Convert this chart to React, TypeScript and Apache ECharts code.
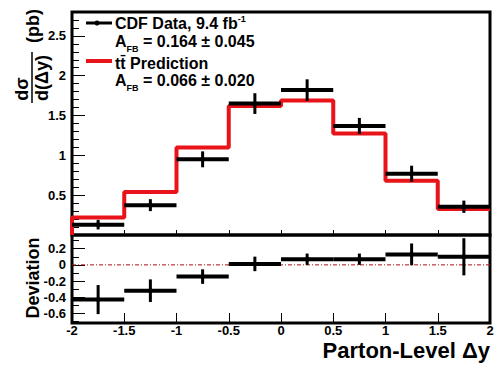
import React, { useEffect, useRef } from "react";
import * as echarts from "echarts";

const binEdges = [-2, -1.5, -1, -0.5, 0, 0.5, 1, 1.5, 2];
const dataValues = [0.13, 0.375, 0.95, 1.65, 1.82, 1.37, 0.77, 0.355];
const dataErrors = [0.06, 0.075, 0.1, 0.13, 0.135, 0.1, 0.1, 0.077];
const predValues = [0.22, 0.54, 1.1, 1.62, 1.69, 1.275, 0.68, 0.325];
const devValues = [-0.43, -0.32, -0.145, 0.012, 0.07, 0.07, 0.13, 0.1];
const devErrors = [0.18, 0.14, 0.09, 0.09, 0.07, 0.07, 0.135, 0.23];
const xTicks = [-2, -1.5, -1, -0.5, 0, 0.5, 1, 1.5, 2];
const upperMajor = [0.5, 1, 1.5, 2, 2.5];
const lowerMajor = [-0.6, -0.4, -0.2, 0, 0.2];

const FONT = "Liberation Sans, Arial, sans-serif";

function minorTicks(lo: number, hi: number, step: number) {
  const out: number[] = [];
  for (let v = lo; v <= hi + 1e-9; v += step) out.push(Math.round(v * 100) / 100);
  return out;
}

export default function App() {
  const ref = useRef<HTMLDivElement>(null);
  useEffect(() => {
    document.body.style.margin = "0";
    const chart = echarts.init(ref.current!, null, { renderer: "svg" });

    const errData = dataValues.map((v, i) => [binEdges[i], binEdges[i + 1], v, dataErrors[i]]);
    const devData = devValues.map((v, i) => [binEdges[i], binEdges[i + 1], v, devErrors[i]]);
    const predPts: number[][] = [[binEdges[0], 0]];
    predValues.forEach((v, i) => predPts.push([binEdges[i], v]));
    predPts.push([binEdges[8], predValues[7]]);

    const renderErr = (params: any, api: any) => {
      const xlo = api.value(0), xhi = api.value(1), y = api.value(2), e = api.value(3);
      const mid = (xlo + xhi) / 2;
      const a = api.coord([xlo, y]);
      const b = api.coord([xhi, y]);
      const t = api.coord([mid, y + e]);
      const bt = api.coord([mid, y - e]);
      return {
        type: "group",
        children: [
          { type: "line", shape: { x1: a[0], y1: a[1], x2: b[0], y2: b[1] }, style: { stroke: "#000", lineWidth: 4 } },
          { type: "line", shape: { x1: t[0], y1: t[1], x2: bt[0], y2: bt[1] }, style: { stroke: "#000", lineWidth: 3 } },
          { type: "circle", shape: { cx: (a[0] + b[0]) / 2, cy: a[1], r: 2.5 }, style: { fill: "#000" } },
        ],
      };
    };

    const lblStyle = { color: "#000", fontWeight: "bold", fontFamily: FONT, fontSize: 13 };
    const tickLine = { color: "#000", width: 1 };
    const noLine = { show: false, onZero: false };

    chart.setOption({
      animation: false,
      grid: [
        { left: 72, top: 12, width: 418, height: 223, show: true, borderColor: "#000", borderWidth: 3, backgroundColor: "transparent" },
        { left: 72, top: 235, width: 418, height: 88, show: true, borderColor: "#000", borderWidth: 3, backgroundColor: "transparent" },
      ],
      xAxis: [
        {
          type: "value", gridIndex: 0, min: -2, max: 2, interval: 0.5, position: "bottom",
          axisLine: noLine, splitLine: { show: false },
          axisTick: { inside: true, length: 5, lineStyle: tickLine, customValues: xTicks },
          axisLabel: { show: false },
        },
        {
          type: "value", gridIndex: 1, min: -2, max: 2, interval: 0.5, position: "bottom",
          axisLine: noLine, splitLine: { show: false },
          axisTick: { inside: true, length: 10, lineStyle: tickLine, customValues: xTicks },
          axisLabel: { ...lblStyle, margin: 1, lineHeight: 13, customValues: xTicks, formatter: (v: number) => String(v) },
        },
      ],
      yAxis: [
        {
          type: "value", gridIndex: 0, min: 0, max: 2.8, position: "left",
          axisLine: noLine, splitLine: { show: false },
          axisTick: { inside: true, length: 13, lineStyle: tickLine, customValues: upperMajor },
          axisLabel: { ...lblStyle, margin: 6, customValues: upperMajor, formatter: (v: number) => String(v) },
        },
        {
          type: "value", gridIndex: 0, min: 0, max: 2.8, position: "left",
          axisLine: noLine, splitLine: { show: false },
          axisTick: { inside: true, length: 7, lineStyle: tickLine, customValues: minorTicks(0.1, 2.7, 0.1) },
          axisLabel: { show: false },
        },
        {
          type: "value", gridIndex: 1, min: -0.72, max: 0.37, position: "left",
          axisLine: noLine, splitLine: { show: false },
          axisTick: { inside: true, length: 13, lineStyle: tickLine, customValues: lowerMajor },
          axisLabel: { ...lblStyle, margin: 6, customValues: lowerMajor, formatter: (v: number) => String(v) },
        },
        {
          type: "value", gridIndex: 1, min: -0.72, max: 0.37, position: "left",
          axisLine: noLine, splitLine: { show: false },
          axisTick: { inside: true, length: 7, lineStyle: tickLine, customValues: minorTicks(-0.7, 0.3, 0.1) },
          axisLabel: { show: false },
        },
      ],
      series: [
        {
          type: "line", xAxisIndex: 0, yAxisIndex: 0, step: "end", data: predPts, symbol: "none",
          lineStyle: { color: "#e8141a", width: 4 }, z: 2,
        },
        {
          type: "custom", xAxisIndex: 0, yAxisIndex: 0, data: errData, renderItem: renderErr, z: 3,
        },
        {
          type: "line", xAxisIndex: 1, yAxisIndex: 2, data: [[-2, 0], [2, 0]], symbol: "none",
          lineStyle: { color: "#b01010", width: 1, type: [4, 2, 1, 2] }, z: 1,
        },
        {
          type: "custom", xAxisIndex: 1, yAxisIndex: 2, data: devData, renderItem: renderErr, z: 3,
        },
      ],
      graphic: [
        { type: "text", x: 22, y: 89, rotation: Math.PI / 2, style: { text: "dσ", font: `bold 18px ${FONT}`, fill: "#000", align: "center", verticalAlign: "middle" } },
        { type: "line", shape: { x1: 32, y1: 52, x2: 32, y2: 103 }, style: { stroke: "#000", lineWidth: 1.5 } },
        { type: "text", x: 42, y: 78, rotation: Math.PI / 2, style: { text: "d(Δy)", font: `bold 18px ${FONT}`, fill: "#000", align: "center", verticalAlign: "middle" } },
        { type: "text", x: 33, y: 26, rotation: Math.PI / 2, style: { text: "(pb)", font: `bold 18px ${FONT}`, fill: "#000", align: "center", verticalAlign: "middle" } },
        { type: "text", x: 33, y: 278, rotation: Math.PI / 2, style: { text: "Deviation", font: `bold 18px ${FONT}`, fill: "#000", align: "center", verticalAlign: "middle" } },
        { type: "text", x: 490, y: 350, style: { text: "Parton-Level Δy", font: `bold 22px ${FONT}`, fill: "#000", align: "right", verticalAlign: "middle", lineHeight: 22 } },
        // legend
        { type: "line", shape: { x1: 86, y1: 23, x2: 112, y2: 23 }, style: { stroke: "#000", lineWidth: 3 } },
        { type: "circle", shape: { cx: 97, cy: 23, r: 2.5 }, style: { fill: "#000" } },
        {
          type: "text", x: 115, y: 23,
          style: {
            text: "{m|CDF Data, 9.4 fb}{sup|-1}", verticalAlign: "middle",
            rich: {
              m: { font: `bold 16px ${FONT}`, fill: "#000", lineHeight: 18 },
              sup: { font: `bold 9px ${FONT}`, fill: "#000", verticalAlign: "top", lineHeight: 18 },
            },
          },
        },
        {
          type: "text", x: 115, y: 41,
          style: {
            text: "{m|A}{sub|FB}{m| = 0.164 ± 0.045}", verticalAlign: "middle",
            rich: {
              m: { font: `bold 16px ${FONT}`, fill: "#000", lineHeight: 18 },
              sub: { font: `bold 9px ${FONT}`, fill: "#000", verticalAlign: "bottom", lineHeight: 18, padding: [0, 0, -3, 0] },
            },
          },
        },
        { type: "line", shape: { x1: 86, y1: 61, x2: 112, y2: 61 }, style: { stroke: "#e8141a", lineWidth: 4 } },
        { type: "text", x: 115, y: 63, style: { text: "tt\u0304 Prediction", font: `bold 16px ${FONT}`, fill: "#000", verticalAlign: "middle" } },
        {
          type: "text", x: 115, y: 80,
          style: {
            text: "{m|A}{sub|FB}{m| = 0.066 ± 0.020}", verticalAlign: "middle",
            rich: {
              m: { font: `bold 16px ${FONT}`, fill: "#000", lineHeight: 18 },
              sub: { font: `bold 9px ${FONT}`, fill: "#000", verticalAlign: "bottom", lineHeight: 18, padding: [0, 0, -3, 0] },
            },
          },
        },
      ],
    });
    return () => chart.dispose();
  }, []);
  return <div ref={ref} style={{ width: 502, height: 365 }} />;
}
